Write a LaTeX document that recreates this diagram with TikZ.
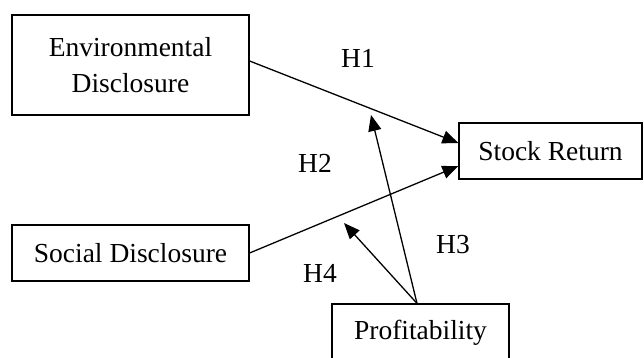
\documentclass[tikz,border=0pt]{standalone}
\usepackage{fontspec}
\setmainfont{Liberation Serif}
\usetikzlibrary{arrows.meta}
\begin{document}
\begin{tikzpicture}[x=1pt,y=-1pt,
  box/.style={draw,line width=1.2pt,rectangle,inner sep=0pt,align=center,
    font=\fontsize{27.5}{35.5}\selectfont},
  conn/.style={line width=1.3pt,-{Triangle[length=16pt,width=13pt]}},
  lbl/.style={inner sep=0pt,font=\fontsize{27.5}{30}\selectfont}]
\useasboundingbox (0,0) rectangle (644,358);
\node[box,minimum width=237pt,minimum height=100pt] (env) at (130.5,65) {Environmental\\Disclosure};
\node[box,minimum width=183pt,minimum height=56pt] (stock) at (550.5,151) {Stock Return};
\node[box,minimum width=237pt,minimum height=56pt] (soc) at (130.5,253) {Social Disclosure};
\node[box,minimum width=177pt,minimum height=58pt] (prof) at (420.5,333) {Profitability};
\coordinate (h3end) at (371,115);
\coordinate (h4end) at (344,223);
\draw[conn] ([yshift=4pt]env.east) -- ([yshift=8pt]stock.west);
\draw[conn] (soc.east) -- ([yshift=-15pt]stock.west);
\draw[conn] ([xshift=-3.5pt]prof.north) -- (h3end);
\draw[conn] ([xshift=-3.5pt]prof.north) -- (h4end);
\node[lbl] (l1) at (358,58) {H1};
\node[lbl] (l2) at (315,163) {H2};
\node[lbl] (l3) at (453,245) {H3};
\node[lbl] (l4) at (320,273) {H4};
\end{tikzpicture}
\end{document}
